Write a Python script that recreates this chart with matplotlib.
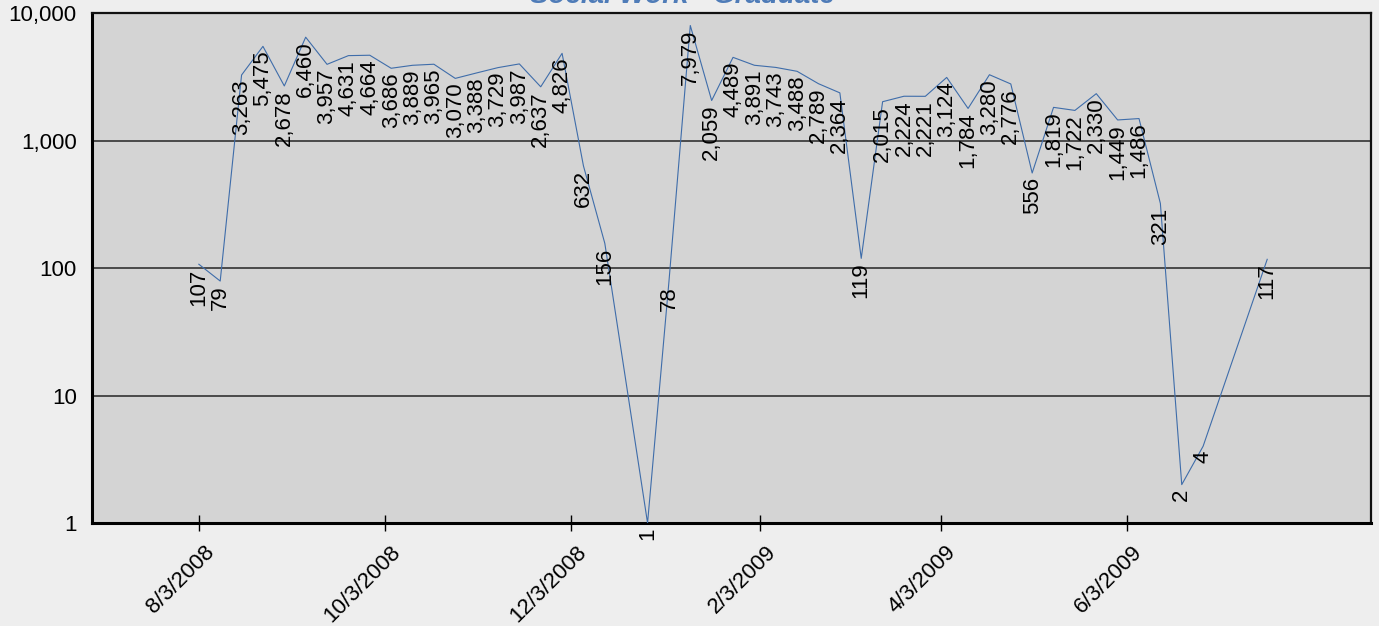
import pandas as pd
import matplotlib
matplotlib.use('Agg')
import matplotlib.pyplot as plt
import matplotlib.transforms as mtransforms
from matplotlib.ticker import FixedLocator, FixedFormatter, NullLocator
import matplotlib.dates as mdates

plt.rcParams['font.family'] = ['Liberation Sans', 'DejaVu Sans']

# 주간 데이터 (빠진 주는 그대로 건너뜀)
dates = [
    '2008-08-03', '2008-08-10', '2008-08-17', '2008-08-24', '2008-08-31',
    '2008-09-07', '2008-09-14', '2008-09-21', '2008-09-28', '2008-10-05',
    '2008-10-12', '2008-10-19', '2008-10-26', '2008-11-02', '2008-11-09',
    '2008-11-16', '2008-11-23', '2008-11-30', '2008-12-07', '2008-12-14',
    '2008-12-28', '2009-01-04', '2009-01-11', '2009-01-18', '2009-01-25',
    '2009-02-01', '2009-02-08', '2009-02-15', '2009-02-22', '2009-03-01',
    '2009-03-08', '2009-03-15', '2009-03-22', '2009-03-29', '2009-04-05',
    '2009-04-12', '2009-04-19', '2009-04-26', '2009-05-03', '2009-05-10',
    '2009-05-17', '2009-05-24', '2009-05-31', '2009-06-07', '2009-06-14',
    '2009-06-21', '2009-06-28', '2009-07-19',
]
values = [
    107, 79, 3263, 5475, 2678, 6460, 3957, 4631, 4664, 3686,
    3889, 3965, 3070, 3388, 3729, 3987, 2637, 4826, 632, 156,
    1, 78, 7979, 2059, 4489, 3891, 3743, 3488, 2789, 2364,
    119, 2015, 2224, 2221, 3124, 1784, 3280, 2776, 556, 1819,
    1722, 2330, 1449, 1486, 321, 2, 4, 117,
]

tick_dates = ['2008-08-03', '2008-10-03', '2008-12-03', '2009-02-03', '2009-04-03', '2009-06-03']
tick_labels = ['8/3/2008', '10/3/2008', '12/3/2008', '2/3/2009', '4/3/2009', '6/3/2009']

y_ticks = [1, 10, 100, 1000, 10000]
y_labels = ['1', '10', '100', '1,000', '10,000']

title = 'Social Work - Graduate'

x = mdates.date2num(pd.to_datetime(dates))
xt = mdates.date2num(pd.to_datetime(tick_dates))

fig = plt.figure(figsize=(13.79, 6.26), dpi=100, facecolor='#eeeeee')
ax = fig.add_axes([92 / 1379, 1 - 523 / 626, (1371 - 92) / 1379, (523 - 13) / 626])
ax.set_facecolor('#d4d4d4')

ax.plot(x, values, color='#3f6daa', lw=0.8, zorder=3)

# 데이터 라벨
for xi, v in zip(x, values):
    ax.annotate(f'{v:,}', (xi, v), xytext=(0, -3), textcoords='offset points',
                rotation=90, ha='center', va='top', fontsize=16, zorder=4)

ax.set_yscale('log')
ax.set_ylim(1, 10000)
ax.set_xlim(mdates.date2num(pd.Timestamp('2008-06-29')), mdates.date2num(pd.Timestamp('2009-08-22')))

ax.yaxis.set_major_locator(FixedLocator(y_ticks))
ax.yaxis.set_major_formatter(FixedFormatter(y_labels))
ax.yaxis.set_minor_locator(NullLocator())
ax.tick_params(axis='y', length=0, pad=11, labelsize=16)

ax.xaxis.set_major_locator(FixedLocator(xt))
ax.xaxis.set_major_formatter(FixedFormatter(tick_labels))
ax.xaxis.set_minor_locator(NullLocator())
ax.tick_params(axis='x', direction='inout', length=11, width=1, pad=4, labelsize=16)
shift = mtransforms.ScaledTranslation(5 / 100, -5 / 100, fig.dpi_scale_trans)
for lab in ax.get_xticklabels():
    lab.set_rotation(45)
    lab.set_ha('right')
    lab.set_rotation_mode('anchor')
    lab.set_transform(lab.get_transform() + shift)

ax.grid(axis='y', color='#333333', lw=1.2, zorder=1)
ax.set_axisbelow(True)

for side in ['left', 'bottom']:
    ax.spines[side].set_linewidth(2.2)
    ax.spines[side].set_color('black')
for side in ['top', 'right']:
    ax.spines[side].set_linewidth(1.6)
    ax.spines[side].set_color('#111111')

fig.text(682 / 1379, 1 - 3 / 626, title, ha='center', va='baseline', fontsize=20,
         fontweight='bold', fontstyle='italic', color='#4f7cb8')

fig.savefig('out.png', dpi=100, facecolor=fig.get_facecolor())
